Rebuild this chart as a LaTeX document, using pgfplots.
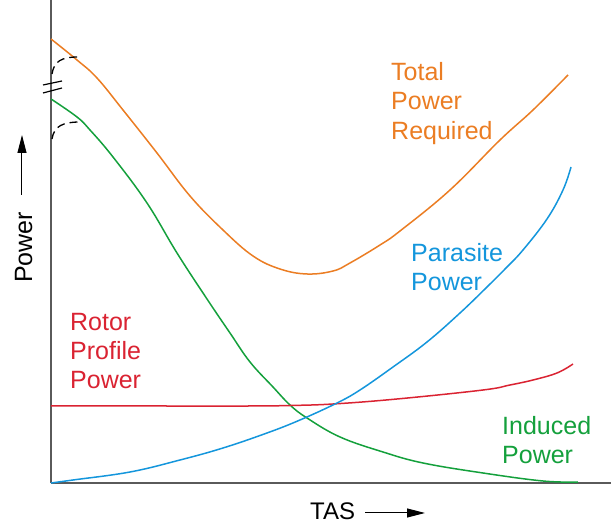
\documentclass[border=0pt]{standalone}
\usepackage{pgfplots}
\pgfplotsset{compat=1.18}
\usepackage{fontspec}
\setmainfont{Liberation Sans}
\usetikzlibrary{arrows.meta}
\definecolor{corange}{RGB}{235,125,35}
\definecolor{cblue}{RGB}{20,150,220}
\definecolor{cred}{RGB}{218,35,50}
\definecolor{cgreen}{RGB}{20,160,60}
\definecolor{caxis}{RGB}{90,90,90}
\begin{document}
\begin{tikzpicture}
\useasboundingbox (-51pt,-41pt) rectangle (560pt,483pt);
\begin{axis}[
  scale only axis, width=560pt, height=483pt,
  at={(0,0)}, anchor=south west,
  xmin=51, xmax=611, ymin=0, ymax=483,
  axis x line=bottom, axis y line=left,
  axis line style={-, color=caxis, line width=1.3pt},
  xtick=\empty, ytick=\empty,
  clip=false,
  every axis plot/.append style={line width=1.5pt, no marks, smooth, tension=0.65},
]
% Total Power Required
\addplot[corange] coordinates {
(51,444)(77,423)(97,405)(123,373)(157,330)(190,287)(223,253)(253,227)(280,214)
(307,209)(333,212)(350,220)(380,238)(400,252)(450,293)(500,343)(533,373)(568,408)};
% Induced Power
\addplot[cgreen] coordinates {
(51,384)(77,366)(90,353)(113,326)(147,280)(177,230)(207,184)(230,150)(250,121)(273,96)
(290,78)(307,65)(340,46)(383,31)(423,20)(483,10)(543,2)(578,1)};
% Rotor Profile Power
\addplot[cred] coordinates {
(51,77)(150,77)(250,77)(290,77.5)(333,79)(397,84)(483,93)(510,98)(533,103)(557,110)(573,119)};
% Parasite Power
\addplot[cblue] coordinates {
(51,0)(73,3)(130,11)(180,23)(223,35)(267,50)(300,63)(337,80)(360,93)(393,116)
(427,141)(460,170)(487,196)(507,216)(523,233)(547,264)(563,293)(571,316)};
% dashed arcs
\draw[black, line width=1.3pt, dash pattern=on 8pt off 5pt]
  (axis cs:52,409) .. controls (axis cs:54,422) and (axis cs:62,426) .. (axis cs:78,426);
\draw[black, line width=1.3pt, dash pattern=on 8pt off 5pt]
  (axis cs:52,344) .. controls (axis cs:54,357) and (axis cs:63,361) .. (axis cs:80,361);
% break marks
\draw[black, line width=1.2pt] (axis cs:43,398) -- (axis cs:62,402);
\draw[black, line width=1.2pt] (axis cs:43,390) -- (axis cs:62,395);
% labels
\begin{scope}[every node/.style={inner sep=0pt, anchor=base west, font=\fontsize{25}{30}\selectfont}]
\node[text=corange] at (axis cs:391,402) {Total};
\node[text=corange] at (axis cs:391,373) {Power};
\node[text=corange] at (axis cs:391,343) {Required};
\node[text=cblue] at (axis cs:411,221) {Parasite};
\node[text=cblue] at (axis cs:411,192) {Power};
\node[text=cred] at (axis cs:70,152) {Rotor};
\node[text=cred] at (axis cs:70,123) {Profile};
\node[text=cred] at (axis cs:70,94) {Power};
\node[text=cgreen] at (axis cs:502,48) {Induced};
\node[text=cgreen] at (axis cs:502,19) {Power};
\end{scope}
\end{axis}
% axis titles
\node[inner sep=0pt, anchor=base west, rotate=90, font=\fontsize{25}{30}\selectfont] at (-19pt,200pt) {Power};
\draw[line width=1pt, -{Triangle[length=18pt,width=9pt]}] (-29pt,288pt) -- (-29pt,348pt);
\node[inner sep=0pt, anchor=base west, font=\fontsize{24}{30}\selectfont] at (259pt,-37pt) {TAS};
\draw[line width=1pt, -{Triangle[length=18pt,width=9pt]}] (314pt,-30pt) -- (374pt,-30pt);
\end{tikzpicture}
\end{document}
